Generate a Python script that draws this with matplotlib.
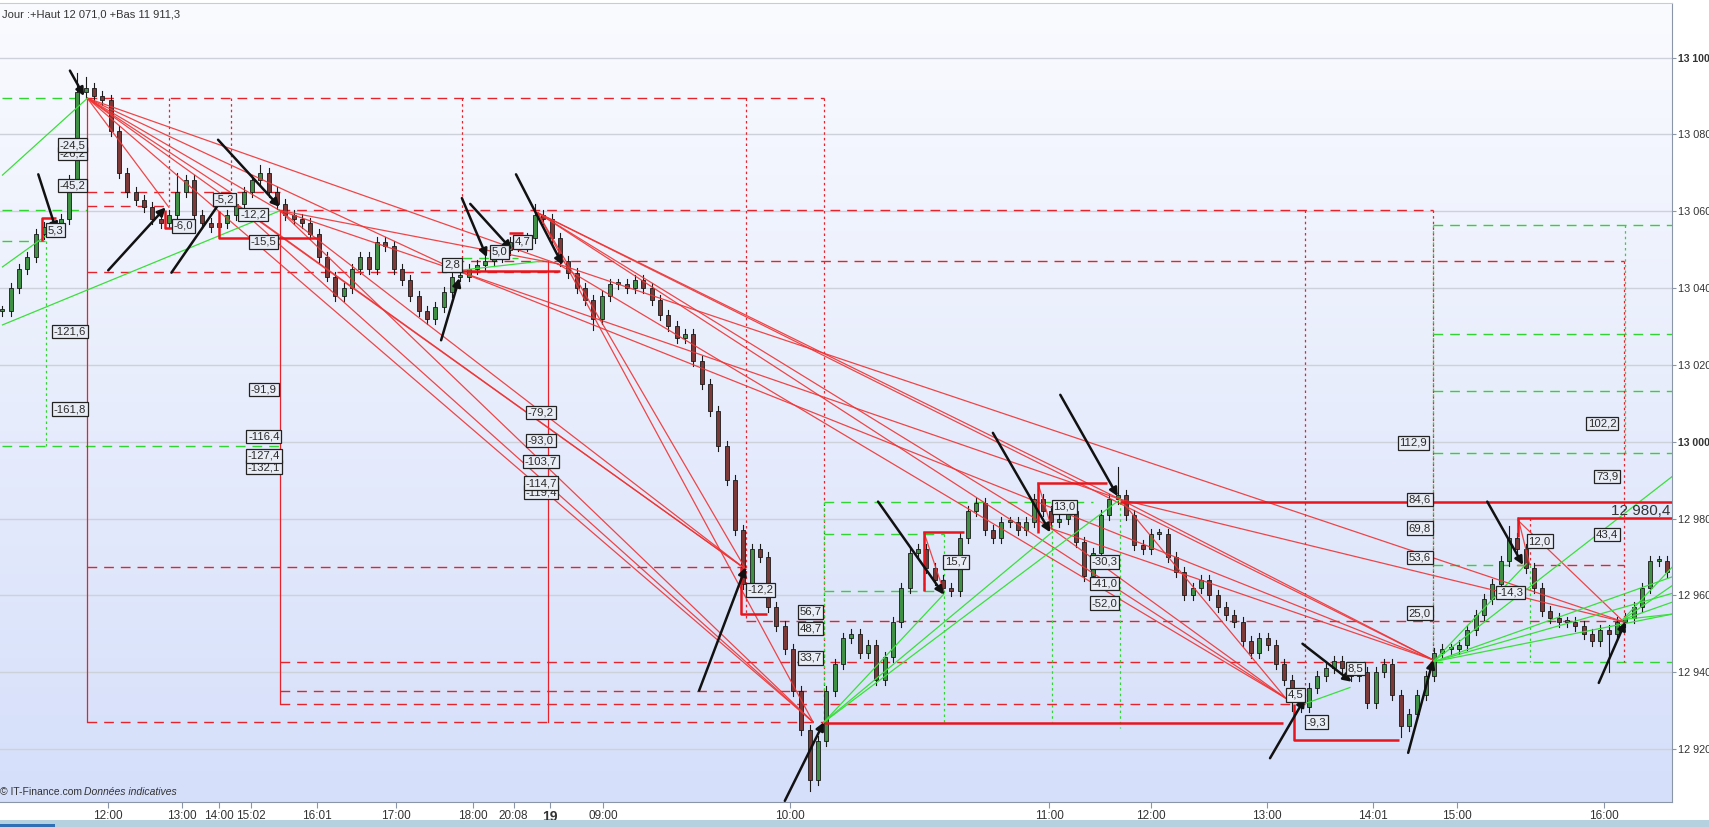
import numpy as np
import matplotlib.pyplot as plt
from matplotlib.patches import Rectangle

# closes per bar
closes = [13034, 13040, 13045, 13048, 13054, 13056, 13055, 13058, 13068, 13091,
          13092, 13090, 13089, 13081, 13070, 13065, 13063, 13061, 13058, 13057,
          13059, 13065, 13068, 13059, 13057, 13056, 13057, 13059, 13062, 13065,
          13068, 13070, 13065, 13062, 13059, 13058, 13057, 13054, 13048, 13043,
          13038, 13040, 13045, 13048, 13045, 13052, 13051, 13045, 13042, 13038,
          13034, 13032, 13035, 13039, 13043, 13043, 13045, 13046, 13047, 13048,
          13050, 13052, 13051, 13053, 13059, 13058, 13053, 13047, 13044, 13040,
          13037, 13032, 13038, 13041, 13041, 13040, 13042, 13040, 13037, 13033,
          13030, 13027, 13028, 13021, 13015, 13008, 12999, 12990, 12977, 12963,
          12972, 12970, 12957, 12952, 12946, 12935, 12925, 12912, 12922, 12935,
          12942, 12949, 12950, 12945, 12947, 12938, 12944, 12953, 12962, 12971,
          12972, 12967, 12964, 12962, 12961, 12975, 12982, 12984, 12977, 12975,
          12979, 12979, 12977, 12979, 12985, 12982, 12979, 12980, 12982, 12974,
          12965, 12971, 12981, 12985, 12986, 12981, 12973, 12972, 12976, 12976,
          12970, 12966, 12960, 12962, 12964, 12960, 12957, 12955, 12953, 12948,
          12945, 12949, 12947, 12942, 12938, 12933, 12931, 12936, 12939, 12941,
          12943, 12941, 12939, 12940, 12932, 12940, 12942, 12934, 12926, 12929,
          12934, 12939, 12945, 12946, 12946, 12947, 12951, 12955, 12959, 12963,
          12969, 12975, 12972, 12967, 12962, 12956, 12954, 12953, 12953, 12952,
          12950, 12948, 12951, 12950, 12953, 12954, 12957, 12962, 12969, 12969,
          12966]
wick_hi = {9: 13096, 10: 13095, 21: 13070, 31: 13072, 64: 13062, 134: 12993.5, 181: 12978}
wick_lo = {97: 12909, 155: 12930, 168: 12923, 193: 12940, 71: 13029}

yticks = [12920, 12940, 12960, 12980, 13000, 13020, 13040, 13060, 13080, 13100]
xtick_pos = [12.7, 21.6, 26.0, 29.9, 37.8, 47.3, 56.5, 61.4, 65.8, 72.2,
             94.6, 125.8, 138.0, 151.9, 164.7, 174.8, 192.4]
xtick_lab = ["12:00", "13:00", "14:00", "15:02", "16:01", "17:00", "18:00", "20:08", "19", "09:00",
             "10:00", "11:00", "12:00", "13:00", "14:01", "15:00", "16:00"]

# dashed level lines: (price, bar from, bar to)
red_levels = [(13089.4, 10.2, 98.7), (13065.0, 10.2, 33.3), (13061.4, 10.2, 20.0),
              (13060.2, 33.3, 171.9), (13047.0, 54.2, 194.8), (13044.3, 10.2, 66.7),
              (12967.4, 10.2, 89.3), (12953.4, 89.3, 194.8), (12942.7, 33.3, 171.9),
              (12935.0, 33.3, 98.7), (12931.6, 33.3, 156.5), (12927.0, 10.2, 98.7),
              (12968.0, 182.0, 194.8)]
green_levels = [(13089.4, 0, 10.2), (13060.2, 0, 10.2), (13052.3, 0, 5.2), (12998.9, 0, 33.3),
                (13047.8, 55.2, 62.0), (12984.2, 98.7, 131.0), (12975.9, 98.7, 113.1),
                (12961.0, 98.7, 113.1), (13056.5, 171.9, 200.6), (13028.1, 171.9, 200.6),
                (13013.2, 171.9, 200.6), (12997.1, 171.9, 200.6), (12968.0, 171.9, 183.5),
                (12942.7, 171.9, 200.6)]
# vertical markers: (bar, price from, price to)
red_dotted_v = [(20.0, 13089.4, 13061.4), (27.5, 13089.4, 13061.4), (55.2, 13089.4, 13047.0),
                (89.3, 13089.4, 12953.4), (98.7, 13089.4, 12927.0), (156.5, 13060.2, 12931.6),
                (171.9, 13060.2, 12942.7), (194.8, 13047.0, 12942.7), (124.4, 12989.3, 12976.1),
                (110.7, 12976.5, 12961.0), (183.5, 12980.2, 12968.0)]
red_solid_v = [(10.2, 13089.4, 12927.0), (33.3, 13060.2, 12931.6), (65.6, 13047.0, 12927.0)]
green_v = [(5.2, 13052.3, 12998.9), (98.7, 12984.2, 12927.0), (113.1, 12975.9, 12927.0),
           (126.1, 12984.2, 12927.0), (134.3, 12984.2, 12925.4), (171.9, 13056.5, 12942.7),
           (183.5, 12968.0, 12942.7), (195.0, 13056.5, 12997.1)]
# thick red boxes (polylines)
red_boxes = [[(4.7, 13052.2), (4.7, 13058.2), (6.4, 13058.2)],
             [(19.5, 13060.2), (19.5, 13055.5), (22.4, 13055.5)],
             [(26.0, 13060.0), (26.0, 13053.1), (38.2, 13053.1)],
             [(55.1, 13044.4), (67.0, 13044.4)],
             [(60.8, 13054.2), (62.5, 13054.2)],
             [(88.7, 12967.3), (88.7, 12955.2), (91.9, 12955.2)],
             [(98.7, 12926.8), (153.8, 12926.8)],
             [(155.2, 12931.6), (155.2, 12922.4), (167.8, 12922.4)],
             [(134.3, 12984.3), (200.6, 12984.3)],
             [(182.1, 12975.3), (182.1, 12980.2), (200.6, 12980.2)],
             [(124.4, 12976.1), (124.4, 12989.3), (132.7, 12989.3)],
             [(110.7, 12961.0), (110.7, 12976.5), (115.5, 12976.5)]]
# thin red trend lines: (bar0, price0, bar1, price1)
red_fans = [(10.2, 13089.4, 20.0, 13061.0), (10.2, 13089.4, 27.6, 13064.6),
            (10.2, 13089.4, 33.3, 13060.2), (10.2, 13089.4, 54.9, 13044.3),
            (10.2, 13089.4, 66.7, 13046.3), (10.2, 13089.4, 89.3, 12966.8),
            (10.2, 13089.4, 97.4, 12927.0), (33.3, 13060.2, 54.9, 13044.3),
            (33.3, 13060.2, 66.7, 13046.3), (33.3, 13060.2, 89.3, 12966.8),
            (33.3, 13060.2, 97.4, 12927.0), (26.8, 13063.9, 89.3, 12966.8),
            (26.8, 13063.9, 97.4, 12927.0), (64.3, 13059.6, 89.3, 12966.8),
            (64.3, 13059.6, 97.4, 12927.0), (64.3, 13059.6, 126.1, 12977.3),
            (64.3, 13059.6, 134.3, 12985.0), (64.3, 13059.6, 154.2, 12933.2),
            (64.3, 13059.6, 171.9, 12943.2), (66.7, 13046.3, 154.2, 12933.2),
            (66.7, 13046.3, 194.8, 12953.1), (54.9, 13044.3, 134.3, 12985.0),
            (54.9, 13044.3, 171.9, 12943.2), (134.3, 12985.0, 154.2, 12933.2),
            (134.3, 12985.0, 171.9, 12943.2), (134.3, 12985.0, 194.8, 12953.1),
            (126.1, 12977.3, 154.2, 12933.2), (126.1, 12977.3, 171.9, 12943.2),
            (182.1, 12979.5, 194.8, 12953.1), (110.7, 12976.5, 113.1, 12961.0),
            (124.4, 12989.3, 126.1, 12977.3), (182.1, 12980.2, 183.5, 12968.0)]
green_fans = [(0, 13069.4, 10.2, 13089.4), (0, 13030.4, 33.2, 13060.0), (0, 13045.5, 5.6, 13054.2),
              (54.9, 13044.6, 64.8, 13047.0), (98.7, 12927.0, 113.1, 12960.3),
              (98.7, 12927.0, 126.1, 12976.4), (98.7, 12927.0, 134.3, 12985.0),
              (156.5, 12931.8, 161.9, 12936.0), (171.9, 12942.7, 183.1, 12968.2),
              (171.9, 12942.7, 200.6, 12990.9), (171.9, 12942.7, 200.6, 12964.8),
              (171.9, 12942.7, 200.6, 12960.5), (171.9, 12942.7, 200.6, 12955.1),
              (194.7, 12953.7, 200.6, 12967.3), (194.7, 12953.7, 200.6, 12962.5),
              (194.7, 12953.7, 200.6, 12958.2), (194.7, 12953.7, 200.6, 12955.1)]
arrows = [(4.3, 13069.6, 6.5, 13054.8), (8.1, 13096.6, 9.8, 13090.0), (12.7, 13044.6, 19.6, 13061.0),
          (20.3, 13044.0, 26.8, 13064.4), (25.9, 13078.6, 33.3, 13061.1), (52.7, 13026.4, 54.9, 13042.6),
          (55.2, 13063.4, 58.2, 13048.0), (56.2, 13061.9, 61.2, 13050.0), (61.7, 13069.6, 67.3, 13046.0),
          (83.7, 12935.2, 89.3, 12967.3), (94.0, 12906.5, 98.7, 12927.0), (105.2, 12984.4, 113.1, 12960.2),
          (119.0, 13002.3, 125.9, 12976.4), (127.1, 13012.2, 134.0, 12985.8), (152.3, 12917.6, 156.5, 12933.2),
          (156.2, 12947.4, 162.1, 12937.5), (168.9, 12919.0, 171.9, 12943.2), (178.4, 12984.4, 182.7, 12967.9),
          (191.8, 12937.2, 195.0, 12953.1)]
labels = [("5,3", 6.4, 13055.1), ("-26,2", 8.4, 13075.0), ("-24,5", 8.4, 13077.2), ("-45,2", 8.4, 13066.7),
          ("-6,0", 21.7, 13056.2), ("-5,2", 26.7, 13063.0), ("-12,2", 30.1, 13059.1), ("-15,5", 31.4, 13052.0),
          ("-121,6", 8.1, 13028.7), ("-161,8", 8.1, 13008.5), ("-91,9", 31.4, 13013.6),
          ("-116,4", 31.4, 13001.4), ("-132,1", 31.4, 12993.4), ("-127,4", 31.4, 12996.3),
          ("2,8", 54.0, 13046.0), ("5,0", 59.7, 13049.4), ("4,7", 62.5, 13052.0),
          ("-79,2", 64.7, 13007.6), ("-93,0", 64.7, 13000.3), ("-103,7", 64.7, 12994.9),
          ("-119,4", 64.7, 12986.9), ("-114,7", 64.7, 12989.2), ("-12,2", 91.1, 12961.4),
          ("56,7", 97.1, 12955.7), ("48,7", 97.1, 12951.4), ("33,7", 97.1, 12943.7),
          ("15,7", 114.6, 12968.7), ("13,0", 127.6, 12983.0), ("-30,3", 132.4, 12968.7),
          ("-41,0", 132.4, 12963.1), ("-52,0", 132.4, 12958.0), ("4,5", 155.4, 12934.1),
          ("-9,3", 157.9, 12927.0), ("8,5", 162.6, 12940.9), ("112,9", 169.5, 12999.7),
          ("84,6", 170.3, 12984.9), ("69,8", 170.3, 12977.5), ("53,6", 170.3, 12969.9),
          ("25,0", 170.3, 12955.4), ("12,0", 184.7, 12974.1), ("-14,3", 181.2, 12960.8),
          ("102,2", 192.2, 13004.8), ("73,9", 192.8, 12990.9), ("43,4", 192.8, 12975.8)]
last_price = "12 980,4"

plt.rcParams['font.family'] = ['Liberation Sans', 'DejaVu Sans']

fig = plt.figure(figsize=(17.09, 8.27), dpi=100)
ax = fig.add_axes([0, 1 - 802 / 827, 1672 / 1709, 799 / 827])
x0, x1 = -0.3, 200.6
y0, y1 = 12906.2, 13114.2
ax.set_xlim(x0, x1)
ax.set_ylim(y0, y1)

# background gradient
grad = np.linspace(0, 1, 256)[:, None]
top = np.array([250, 251, 255]) / 255
bot = np.array([213, 223, 250]) / 255
img = top + (bot - top) * grad[..., None]
ax.imshow(img, extent=[x0, x1, y0, y1], aspect='auto', origin='upper', zorder=0)

for t in yticks:
    ax.axhline(t, color='#cdd1da', lw=1.0, zorder=1)

red = '#e8222a'
green = '#2fd62f'
for p, a, b in red_levels:
    ax.plot([a, b], [p, p], color=red, lw=1.0, dashes=(7, 5), zorder=3)
for p, a, b in green_levels:
    ax.plot([a, b], [p, p], color=green, lw=1.0, dashes=(7, 5), zorder=3)
for b, pa, pb in red_dotted_v:
    ax.plot([b, b], [pa, pb], color=red, lw=0.9, dashes=(2, 2.5), zorder=3)
for b, pa, pb in red_solid_v:
    ax.plot([b, b], [pa, pb], color=red, lw=0.9, zorder=3)
for b, pa, pb in green_v:
    ax.plot([b, b], [pa, pb], color=green, lw=0.9, dashes=(2, 2.5), zorder=3)

# candles
o = [closes[0]] + closes[:-1]
for i, c in enumerate(closes):
    hi = wick_hi.get(i, max(o[i], c) + 1.3)
    lo = wick_lo.get(i, min(o[i], c) - 1.3)
    ax.plot([i, i], [lo, hi], color='#1a1a1a', lw=0.8, zorder=4)
    bottom = min(o[i], c)
    h = max(abs(c - o[i]), 0.5)
    fc = '#3f8f45' if c >= o[i] else '#7d3838'
    ax.add_patch(Rectangle((i - 0.24, bottom), 0.48, h, facecolor=fc, edgecolor='#1a1a1a',
                           lw=0.6, zorder=5))

for a, pa, b, pb in red_fans:
    ax.plot([a, b], [pa, pb], color='#ee3333', lw=0.9, alpha=0.9, zorder=6)
for a, pa, b, pb in green_fans:
    ax.plot([a, b], [pa, pb], color='#39e039', lw=0.9, zorder=6)
for box in red_boxes:
    bx, by = zip(*box)
    ax.plot(bx, by, color='#e8151c', lw=1.8, zorder=7, solid_capstyle='butt')

for a, pa, b, pb in arrows:
    ax.annotate('', xy=(b, pb), xytext=(a, pa),
                arrowprops=dict(arrowstyle='-|>', color='#111111', lw=1.8,
                                mutation_scale=12, shrinkA=0, shrinkB=0), zorder=8)

for txt, b, p in labels:
    ax.text(b, p, txt, fontsize=8.2, color='#2a2a2a', ha='center', va='center', zorder=9,
            bbox=dict(boxstyle='square,pad=0.15', fc='#e9edf6', ec='#222222', lw=0.9))

ax.text(x1 - 0.2, 12982, last_price, fontsize=11, color='#333333', ha='right', va='center', zorder=9)

ax.text(0.001, 1 - 6 / 799, "Jour :+Haut 12 071,0 +Bas 11 911,3", transform=ax.transAxes,
        fontsize=8, color='#333333', ha='left', va='top', zorder=9)
ax.text(0.0, 5 / 799, "\u00a9 IT-Finance.com", transform=ax.transAxes,
        fontsize=7.5, color='#333333', ha='left', va='bottom', zorder=9)
ax.text(84 / 1672, 5 / 799, "Donn\u00e9es indicatives", transform=ax.transAxes,
        fontsize=7.5, color='#333333', ha='left', va='bottom', style='italic', zorder=9)

# axes decoration
ax.spines['left'].set_visible(False)
ax.spines['top'].set_color('#c8ccd4')
ax.spines['right'].set_color('#8a96a8')
ax.spines['bottom'].set_color('#8a96a8')
ax.yaxis.tick_right()
ax.set_yticks(yticks)
ax.set_yticklabels([f"{t:,}".replace(",", " ") for t in yticks], fontsize=7.8, color='#333333')
for lab, t in zip(ax.get_yticklabels(), yticks):
    if t % 100 == 0:
        lab.set_fontweight('bold')
        lab.set_fontsize(7.6)
ax.tick_params(axis='y', length=3, color='#8a96a8', pad=1.5)
ax.set_xticks(xtick_pos)
ax.set_xticklabels(xtick_lab, fontsize=8.5, color='#333333')
for lab in ax.get_xticklabels():
    if lab.get_text() == "19":
        lab.set_fontweight('bold')
        lab.set_fontsize(10)
ax.tick_params(axis='x', length=4, color='#8a96a8', pad=2)

fig.patches.append(Rectangle((0, 0), 1, 7 / 827, transform=fig.transFigure,
                             facecolor='#b5d0de', edgecolor='none'))
fig.patches.append(Rectangle((0, 0), 55 / 1709, 3 / 827, transform=fig.transFigure,
                             facecolor='#2f6fb5', edgecolor='none'))

fig.savefig('out.png', dpi=100, facecolor='white')
